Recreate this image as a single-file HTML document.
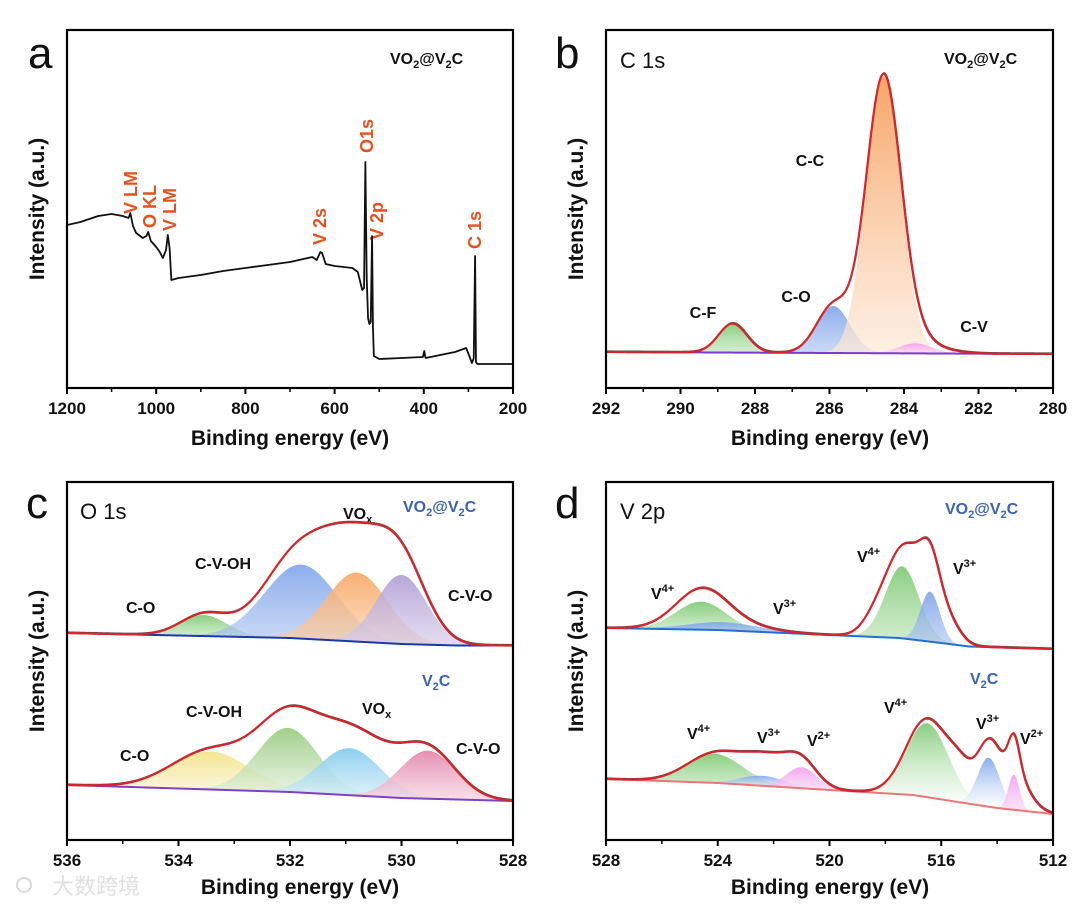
<!DOCTYPE html>
<html><head><meta charset="utf-8">
<style>
html,body{margin:0;padding:0;background:#fff;}
svg{display:block;font-family:"Liberation Sans","Noto Sans CJK SC",sans-serif;}
.tk{font-size:17px;font-weight:bold;fill:#111;text-anchor:middle;}
.ax{font-size:21px;font-weight:bold;fill:#111;text-anchor:middle;}
.lb{font-size:16px;font-weight:bold;fill:#111;}
.or{font-size:18px;font-weight:bold;fill:#e8501f;}
.bl{font-size:16px;font-weight:bold;fill:#3a62b8;}
.pl{font-size:44px;fill:#111;}
.ti{font-size:22px;fill:#111;}
</style></head>
<body>
<svg id="fig" width="1080" height="909" viewBox="0 0 1080 909">
<defs>
<linearGradient id="gGreen" x1="0" y1="0" x2="0" y2="1"><stop offset="0" stop-color="#7cc873" stop-opacity="0.9"/><stop offset="1" stop-color="#b8e2b0" stop-opacity="0.6"/></linearGradient>
<linearGradient id="gGreenF" x1="0" y1="0" x2="0" y2="1"><stop offset="0" stop-color="#7cc873" stop-opacity="0.9"/><stop offset="1" stop-color="#ffffff" stop-opacity="0.5"/></linearGradient>
<linearGradient id="gBlue" x1="0" y1="0" x2="0" y2="1"><stop offset="0" stop-color="#7ea4ea" stop-opacity="0.9"/><stop offset="1" stop-color="#a9c0f0" stop-opacity="0.6"/></linearGradient>
<linearGradient id="gBlueF" x1="0" y1="0" x2="0" y2="1"><stop offset="0" stop-color="#7ea4ea" stop-opacity="0.9"/><stop offset="1" stop-color="#ffffff" stop-opacity="0.5"/></linearGradient>
<linearGradient id="gOrange" x1="0" y1="0" x2="0" y2="1"><stop offset="0" stop-color="#f6a15e" stop-opacity="0.95"/><stop offset="1" stop-color="#fde9d8" stop-opacity="0.7"/></linearGradient>
<linearGradient id="gOrange2" x1="0" y1="0" x2="0" y2="1"><stop offset="0" stop-color="#f8ab6c" stop-opacity="0.95"/><stop offset="1" stop-color="#fbd0a8" stop-opacity="0.7"/></linearGradient>
<linearGradient id="gPink" x1="0" y1="0" x2="0" y2="1"><stop offset="0" stop-color="#f39cf0" stop-opacity="0.9"/><stop offset="1" stop-color="#f9d3f5" stop-opacity="0.6"/></linearGradient>
<linearGradient id="gPurple" x1="0" y1="0" x2="0" y2="1"><stop offset="0" stop-color="#b4a2d6" stop-opacity="0.95"/><stop offset="1" stop-color="#d6ccea" stop-opacity="0.7"/></linearGradient>
<linearGradient id="gYellow" x1="0" y1="0" x2="0" y2="1"><stop offset="0" stop-color="#f4e48c" stop-opacity="0.95"/><stop offset="1" stop-color="#fbf3d0" stop-opacity="0.7"/></linearGradient>
<linearGradient id="gCyan" x1="0" y1="0" x2="0" y2="1"><stop offset="0" stop-color="#86ccee" stop-opacity="0.95"/><stop offset="1" stop-color="#d2ecf8" stop-opacity="0.7"/></linearGradient>
<linearGradient id="gRose" x1="0" y1="0" x2="0" y2="1"><stop offset="0" stop-color="#e488ac" stop-opacity="0.95"/><stop offset="1" stop-color="#f6d2e0" stop-opacity="0.7"/></linearGradient>
<linearGradient id="gGreen2" x1="0" y1="0" x2="0" y2="1"><stop offset="0" stop-color="#9ccc84" stop-opacity="0.95"/><stop offset="1" stop-color="#e2f0da" stop-opacity="0.7"/></linearGradient>
<clipPath id="clipA"><rect x="67" y="30" width="446" height="358"/></clipPath>
<clipPath id="clipB"><rect x="606" y="30" width="447" height="358"/></clipPath>
<clipPath id="clipC"><rect x="67" y="482" width="446" height="358"/></clipPath>
<clipPath id="clipD"><rect x="606" y="482" width="447" height="358"/></clipPath>
</defs>

<text class="pl" x="28" y="68">a</text>
<text class="pl" x="555" y="68">b</text>
<text class="pl" x="26" y="518">c</text>
<text class="pl" x="555" y="518">d</text>
<text class="ti" x="620" y="68">C 1s</text>
<text class="ti" x="80" y="519">O 1s</text>
<text class="ti" x="620" y="519">V 2p</text>

<text class="lb" x="390" y="64">VO<tspan font-size="11" dy="4">2</tspan><tspan dy="-4">@V</tspan><tspan font-size="11" dy="4">2</tspan><tspan dy="-4">C</tspan></text>
<text class="lb" x="944" y="64">VO<tspan font-size="11" dy="4">2</tspan><tspan dy="-4">@V</tspan><tspan font-size="11" dy="4">2</tspan><tspan dy="-4">C</tspan></text>
<text class="bl" x="403" y="512">VO<tspan font-size="11" dy="4">2</tspan><tspan dy="-4">@V</tspan><tspan font-size="11" dy="4">2</tspan><tspan dy="-4">C</tspan></text>
<text class="bl" x="422" y="686">V<tspan font-size="11" dy="4">2</tspan><tspan dy="-4">C</tspan></text>
<text class="bl" x="945" y="514">VO<tspan font-size="11" dy="4">2</tspan><tspan dy="-4">@V</tspan><tspan font-size="11" dy="4">2</tspan><tspan dy="-4">C</tspan></text>
<text class="bl" x="970" y="684">V<tspan font-size="11" dy="4">2</tspan><tspan dy="-4">C</tspan></text>

<text class="or" transform="translate(137,214) rotate(-90)">V LM</text>
<text class="or" transform="translate(156,228) rotate(-90)">O KL</text>
<text class="or" transform="translate(176,231) rotate(-90)">V LM</text>
<text class="or" transform="translate(326,245) rotate(-90)">V 2s</text>
<text class="or" transform="translate(373,153) rotate(-90)">O1s</text>
<text class="or" transform="translate(383,240) rotate(-90)">V 2p</text>
<text class="or" transform="translate(481,249) rotate(-90)">C 1s</text>

<text class="lb" x="810" y="166" text-anchor="middle">C-C</text>
<text class="lb" x="796" y="302" text-anchor="middle">C-O</text>
<text class="lb" x="703" y="318" text-anchor="middle">C-F</text>
<text class="lb" x="974" y="332" text-anchor="middle">C-V</text>

<text class="lb" x="126" y="613">C-O</text>
<text class="lb" x="195" y="569">C-V-OH</text>
<text class="lb" x="343" y="519">VO<tspan font-size="11" dy="4">x</tspan></text>
<text class="lb" x="448" y="601">C-V-O</text>
<text class="lb" x="120" y="761">C-O</text>
<text class="lb" x="186" y="717">C-V-OH</text>
<text class="lb" x="362" y="714">VO<tspan font-size="11" dy="4">x</tspan></text>
<text class="lb" x="456" y="754">C-V-O</text>

<text class="lb" x="651" y="599">V<tspan font-size="11" dy="-7">4+</tspan></text>
<text class="lb" x="773" y="614">V<tspan font-size="11" dy="-7">3+</tspan></text>
<text class="lb" x="857" y="562">V<tspan font-size="11" dy="-7">4+</tspan></text>
<text class="lb" x="953" y="574">V<tspan font-size="11" dy="-7">3+</tspan></text>
<text class="lb" x="687" y="739">V<tspan font-size="11" dy="-7">4+</tspan></text>
<text class="lb" x="757" y="743">V<tspan font-size="11" dy="-7">3+</tspan></text>
<text class="lb" x="807" y="746">V<tspan font-size="11" dy="-7">2+</tspan></text>
<text class="lb" x="884" y="713">V<tspan font-size="11" dy="-7">4+</tspan></text>
<text class="lb" x="976" y="729">V<tspan font-size="11" dy="-7">3+</tspan></text>
<text class="lb" x="1020" y="744">V<tspan font-size="11" dy="-7">2+</tspan></text>

<text class="ax" x="290" y="445">Binding energy (eV)</text>
<text class="ax" x="830" y="445">Binding energy (eV)</text>
<text class="ax" x="300" y="894">Binding energy (eV)</text>
<text class="ax" x="830" y="894">Binding energy (eV)</text>
<text class="ax" transform="translate(44,209) rotate(-90)">Intensity (a.u.)</text>
<text class="ax" transform="translate(583,209) rotate(-90)">Intensity (a.u.)</text>
<text class="ax" transform="translate(44,661) rotate(-90)">Intensity (a.u.)</text>
<text class="ax" transform="translate(583,661) rotate(-90)">Intensity (a.u.)</text>

<g opacity="0.55">
<circle cx="24" cy="885" r="7" fill="none" stroke="#bbb" stroke-width="2"/>
<text x="52" y="894" font-size="22" fill="#c8c8c8" font-family="'Noto Sans CJK SC',sans-serif">大数跨境</text>
</g>
</svg>

<script>
// ---- Panel a: survey spectrum ----
const surveyEnergy = [1200,1170,1130,1100,1075,1062,1058,1052,1045,1030,1022,1018,1012,1000,992,985,978,974,970,966,950,900,850,800,750,700,650,640,632,628,620,600,560,548,538,534,531,528,525,522,519,516,514,512,500,450,402,399,396,330,305,298,292,288,285,283,280,200];
const surveyIntensity = [163,166,172,174,172,170,175,162,155,150,152,156,147,141,136,130,138,153,140,108,110,113,117,120,123,126,131,128,136,135,124,122,120,116,98,100,226,110,70,64,66,152,60,32,29,30,31,37,30,36,40,32,25,30,132,26,24,24];
const aTicks = [1200,1000,800,600,400,200];
const aMinor = [1100,900,700,500,300];

// ---- Panel b: C 1s ----
const bNames = ['C-F','C-O','C-C','C-V'];
const bCenters = [288.6,285.9,284.55,283.7];
const bAmps = [29,47,277,10];
const bSigmas = [0.38,0.45,0.47,0.45];
const bExtraCenters = [283.2];
const bExtraAmps = [4];
const bExtraSigmas = [0.6];
const bBaseE = [292,280];
const bBaseV = [36,34];
const bTicks = [292,290,288,286,284,282,280];
const bMinor = [291,289,287,285,283,281];

// ---- Panel c: O 1s ----
const cTopNames = ['C-O','C-V-OH','VOx','C-V-O'];
const cTopCenters = [533.55,531.8,530.8,530.0];
const cTopAmps = [21,74,69,69];
const cTopSigmas = [0.42,0.65,0.55,0.45];
const cTopExtraCenters = [530.7,532.0];
const cTopExtraAmps = [12,10];
const cTopExtraSigmas = [0.7,0.6];
const cTopBaseE = [536,532,530,529,528];
const cTopBaseV = [207,202,196,194.5,194.5];
const cBotNames = ['C-O','C-V-OH','VOx','C-V-O'];
const cBotCenters = [533.43,532.04,530.93,529.53];
const cBotAmps = [38,64,47,48];
const cBotSigmas = [0.7,0.55,0.55,0.5];
const cBotExtraCenters = [531.5,530.3];
const cBotExtraAmps = [12,12];
const cBotExtraSigmas = [0.9,0.5];
const cBotBaseE = [536,532,530,528];
const cBotBaseV = [55,48,42,39];
const cTicks = [536,534,532,530,528];
const cMinor = [535,533,531,529];

// ---- Panel d: V 2p ----
const dTopNames = ['V4+','V3+','V4+','V3+'];
const dTopCenters = [524.6,523.8,517.4,516.4];
const dTopAmps = [28,8,72,50];
const dTopSigmas = [0.9,1.3,0.6,0.35];
const dTopExtraCenters = [518.3,516.8,515.8,524.6];
const dTopExtraAmps = [18,28,22,7];
const dTopExtraSigmas = [0.5,0.6,0.45,1.0];
const dTopBaseE = [528,524,520,517.5,516,515,512];
const dTopBaseV = [212,210,205,202,197,193.5,191];
const dBotNames = ['V4+','V3+','V2+','V4+','V3+','V2+'];
const dBotCenters = [524.1,522.4,521.0,516.5,514.3,513.4];
const dBotAmps = [29,10,21,74,49,35];
const dBotSigmas = [1.0,0.8,0.55,0.75,0.4,0.2];
const dBotExtraCenters = [522.0,516.5,513.8,513.3,515.3];
const dBotExtraAmps = [18,4,18,22,24];
const dBotExtraSigmas = [0.9,1.0,0.7,0.45,0.45];
const dBotBaseE = [528,524,520,517,515.5,514,512];
const dBotBaseV = [61,57,50,45,38.4,32,26];
const dTicks = [528,524,520,516,512];
const dMinor = [526,522,518,514];

const NS = 'http://www.w3.org/2000/svg';
const svg = document.getElementById('fig');
function mk(tag, attrs, parent){
  const el = document.createElementNS(NS, tag);
  for (const k in attrs) el.setAttribute(k, attrs[k]);
  (parent||svg).appendChild(el);
  return el;
}
function linScale(d0,d1,r0,r1){ return v => r0 + (v-d0)/(d1-d0)*(r1-r0); }
function interp(xs, vs, e){
  for (let i=0;i<xs.length-1;i++){
    const a=xs[i], b=xs[i+1];
    if ((e<=a && e>=b) || (e>=a && e<=b)) return vs[i] + (e-a)/(b-a)*(vs[i+1]-vs[i]);
  }
  return e > Math.max(xs[0],xs[xs.length-1]) ? vs[0] : vs[vs.length-1];
}
function gauss(e,c,a,s){ return a*Math.exp(-(e-c)*(e-c)/(2*s*s)); }

function drawFrame(px0,py0,w,h,xs,ticks,minor,name){
  const g = mk('g',{});
  
  
  ticks.forEach(t=>{
    const x = xs(t);
    const tl = mk('line',{x1:x,y1:py0+h,x2:x,y2:py0+h+6,stroke:'#000','stroke-width':2},g);
    
    
    const tx = mk('text',{x:x,y:py0+h+26,class:'tk'},g);
    tx.textContent = String(t);
    
    
  });
  minor.forEach(t=>{
    const x = xs(t);
    const ml = mk('line',{x1:x,y1:py0+h,x2:x,y2:py0+h+4,stroke:'#000','stroke-width':1.5},g);
    
    
  });
  const r = mk('rect',{x:px0,y:py0,width:w,height:h,fill:'none',stroke:'#000','stroke-width':2.2},g);
  
  
}

function drawFit(g, xs, ys, e0, e1, baseE, baseV, centers, amps, sigmas, names, fills, exC, exA, exS, baseColor, name){
  const N = 500, samples = [];
  for (let i=0;i<=N;i++) samples.push(e0 + (e1-e0)*i/N);
  centers.forEach((c,k)=>{
    let top = [], bot = [];
    samples.forEach(e=>{
      const b = interp(baseE, baseV, e);
      const v = gauss(e,c,amps[k],sigmas[k]);
      if (v > amps[k]*0.003){
        top.push(xs(e).toFixed(2)+','+ys(b+v).toFixed(2));
        bot.push(xs(e).toFixed(2)+','+ys(b).toFixed(2));
      }
    });
    const p = mk('polygon',{points: top.concat(bot.reverse()).join(' '), fill:'url(#'+fills[k]+')', stroke:'none'}, g);
    
    
  });
  const bl = mk('polyline',{points: samples.map(e=>xs(e).toFixed(2)+','+ys(interp(baseE,baseV,e)).toFixed(2)).join(' '), fill:'none', stroke:baseColor, 'stroke-width':2}, g);
  
  
  const env = samples.map(e=>{
    let v = interp(baseE,baseV,e);
    centers.forEach((c,k)=>{ v += gauss(e,c,amps[k],sigmas[k]); });
    exC.forEach((c,k)=>{ v += gauss(e,c,exA[k],exS[k]); });
    return xs(e).toFixed(2)+','+ys(v).toFixed(2);
  });
  const raw = mk('polyline',{points: env.join(' '), fill:'none', stroke:'#555', 'stroke-width':1.2, transform:'translate(0.5,-1)'}, g);
  
  
  const el = mk('polyline',{points: env.join(' '), fill:'none', stroke:'#d8232a', 'stroke-width':2.2}, g);
  
  
}

(function(){
  const xs = linScale(1200,200,67,513), ys = linScale(0,358,388,30);
  const g = mk('g',{'clip-path':'url(#clipA)'});
  
  
  const pts = surveyEnergy.map((e,i)=>xs(e).toFixed(2)+','+ys(surveyIntensity[i]).toFixed(2)).join(' ');
  const l = mk('polyline',{points:pts,fill:'none',stroke:'#111','stroke-width':1.8,'stroke-linejoin':'round'},g);
  
  
  drawFrame(67,30,446,358,xs,aTicks,aMinor,'survey');
})();

(function(){
  const xs = linScale(292,280,606,1053), ys = linScale(0,358,388,30);
  const g = mk('g',{'clip-path':'url(#clipB)'});
  
  
  drawFit(g,xs,ys,292,280,bBaseE,bBaseV,bCenters,bAmps,bSigmas,bNames,['gGreen','gBlue','gOrange','gPink'],bExtraCenters,bExtraAmps,bExtraSigmas,'#7a3cd0','c1s');
  drawFrame(606,30,447,358,xs,bTicks,bMinor,'c1s');
})();

(function(){
  const xs = linScale(536,528,67,513), ys = linScale(0,358,840,482);
  const g = mk('g',{'clip-path':'url(#clipC)'});
  
  
  drawFit(g,xs,ys,536,528,cTopBaseE,cTopBaseV,cTopCenters,cTopAmps,cTopSigmas,cTopNames,['gGreen','gBlue','gOrange2','gPurple'],cTopExtraCenters,cTopExtraAmps,cTopExtraSigmas,'#1a3aa8','o1s-vo2');
  drawFit(g,xs,ys,536,528,cBotBaseE,cBotBaseV,cBotCenters,cBotAmps,cBotSigmas,cBotNames,['gYellow','gGreen2','gCyan','gRose'],cBotExtraCenters,cBotExtraAmps,cBotExtraSigmas,'#8040c0','o1s-v2c');
  drawFrame(67,482,446,358,xs,cTicks,cMinor,'o1s');
})();

(function(){
  const xs = linScale(528,512,606,1053), ys = linScale(0,358,840,482);
  const g = mk('g',{'clip-path':'url(#clipD)'});
  
  
  drawFit(g,xs,ys,528,512,dTopBaseE,dTopBaseV,dTopCenters,dTopAmps,dTopSigmas,dTopNames,['gGreen','gBlue','gGreen','gBlue'],dTopExtraCenters,dTopExtraAmps,dTopExtraSigmas,'#2070d0','v2p-vo2');
  drawFit(g,xs,ys,528,512,dBotBaseE,dBotBaseV,dBotCenters,dBotAmps,dBotSigmas,dBotNames,['gGreen','gBlueF','gPink','gGreenF','gBlueF','gPink'],dBotExtraCenters,dBotExtraAmps,dBotExtraSigmas,'#e87878','v2p-v2c');
  drawFrame(606,482,447,358,xs,dTicks,dMinor,'v2p');
})();
</script>
</body></html>
